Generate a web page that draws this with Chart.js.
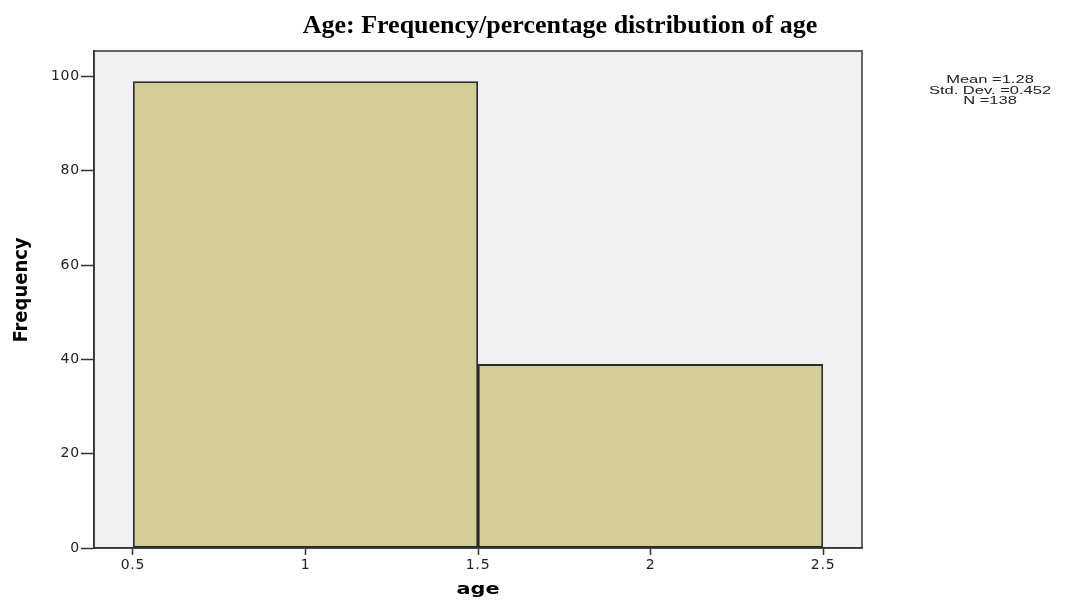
<!DOCTYPE html>
<html>
<head>
<meta charset="utf-8">
<script src="https://cdn.jsdelivr.net/npm/chart.js@4.4.0/dist/chart.umd.min.js"></script>
<style>
  html, body { margin: 0; padding: 0; background: #fff; }
  #wrap { width: 1079px; height: 601px; position: relative; }
</style>
</head>
<body>
<div id="wrap"><canvas id="hist"></canvas></div>
<script>
// Histogram data (bin centres and counts)
var binCenters = [1, 2];
var counts = [99, 39];
var xTickValues = [0.5, 1, 1.5, 2, 2.5];
var yTickValues = [0, 20, 40, 60, 80, 100];
var statLines = ['Mean =1.28', 'Std. Dev. =0.452', 'N =138'];
var chartTitle = 'Age: Frequency/percentage distribution of age';
var xTitle = 'age';
var yTitle = 'Frequency';

// Gray plot background plus a frame round it, and the SPSS style texts
var framePlugin = {
    id: 'frame',
    beforeDraw: function(chart) {
        var a = chart.chartArea, ctx = chart.ctx;
        ctx.save();
        ctx.fillStyle = '#f0f0f0';
        ctx.fillRect(a.left, a.top, a.right - a.left, a.bottom - a.top);
        ctx.restore();
        ctx.letterSpacing = '0.8px';
    },
    afterDraw: function(chart) {
        var a = chart.chartArea, ctx = chart.ctx;
        ctx.letterSpacing = '0px';
        ctx.save();
        ctx.strokeStyle = '#333';
        ctx.lineWidth = 1.5;
        ctx.strokeRect(a.left, a.top, a.right - a.left, a.bottom - a.top);

        // title
        ctx.fillStyle = '#000';
        ctx.textAlign = 'center';
        ctx.textBaseline = 'alphabetic';
        ctx.font = 'bold 26px "Liberation Serif", "Times New Roman", serif';
        ctx.fillText(chartTitle, 560, 33);

        // x axis title
        ctx.textBaseline = 'middle';
        ctx.save();
        ctx.translate((a.left + a.right) / 2, 590);
        ctx.scale(1.3, 1);
        ctx.font = 'bold 16px "DejaVu Sans", sans-serif';
        ctx.fillText(xTitle, 0, 0);
        ctx.restore();

        // y axis title
        ctx.save();
        ctx.translate(22, 290);
        ctx.rotate(-Math.PI / 2);
        ctx.font = 'bold 20px "Liberation Sans Narrow", "DejaVu Sans Condensed", sans-serif';
        ctx.fillText(yTitle, 0, 0);
        ctx.restore();

        // stats box
        ctx.font = '11px "Liberation Sans", Arial, sans-serif';
        ctx.fillStyle = '#222';
        for (var i = 0; i < statLines.length; i++) {
            ctx.save();
            ctx.translate(990, 80 + i * 10.5);
            ctx.scale(1.5, 1);
            ctx.fillText(statLines[i], 0, 0);
            ctx.restore();
        }
        ctx.restore();
    }
};

var ctx = document.getElementById('hist').getContext('2d');
var histChart = new Chart(ctx, {
    type: 'bar',
    data: {
        datasets: [{
            label: 'Frequency',
            data: binCenters.map(function(x, i) { return { x: x, y: counts[i] }; }),
            backgroundColor: '#d3cd98',
            borderColor: '#2a2a2a',
            borderWidth: 1.8,
            borderSkipped: false,
            // tick spacing is half a bin, so the bars need twice that width
            barPercentage: 2,
            categoryPercentage: 1
        }]
    },
    options: {
        responsive: true,
        maintainAspectRatio: false,
        animation: false,
        layout: { padding: { left: 0, right: 217, top: 51, bottom: 0 } },
        plugins: {
            legend: { display: false },
            title: { display: false },
            tooltip: { enabled: false }
        },
        scales: {
            x: {
                type: 'linear',
                offset: false,
                min: 0.387,
                max: 2.613,
                afterBuildTicks: function(scale) {
                    scale.ticks = xTickValues.map(function(v) { return { value: v }; });
                },
                afterFit: function(scale) { scale.height = 53; },
                grid: { offset: false, drawOnChartArea: false, drawTicks: true, tickLength: 7, tickColor: '#333', tickWidth: 1.5 },
                border: { display: true, color: '#333', width: 1.5 },
                ticks: {
                    color: '#222',
                    padding: 2,
                    maxRotation: 0,
                    autoSkip: false,
                    font: { family: '"DejaVu Sans", sans-serif', size: 14 },
                    callback: function(v) { return String(v); }
                }
            },
            y: {
                min: 0,
                max: 105.4,
                afterBuildTicks: function(scale) {
                    scale.ticks = yTickValues.map(function(v) { return { value: v }; });
                },
                afterFit: function(scale) { scale.width = 94; },
                grid: { drawOnChartArea: false, drawTicks: true, tickLength: 13, tickColor: '#333', tickWidth: 1.5 },
                border: { display: true, color: '#333', width: 1.5 },
                ticks: {
                    color: '#222',
                    padding: 1,
                    autoSkip: false,
                    font: { family: '"DejaVu Sans", sans-serif', size: 14 }
                }
            }
        }
    },
    plugins: [framePlugin]
});
</script>
</body>
</html>
